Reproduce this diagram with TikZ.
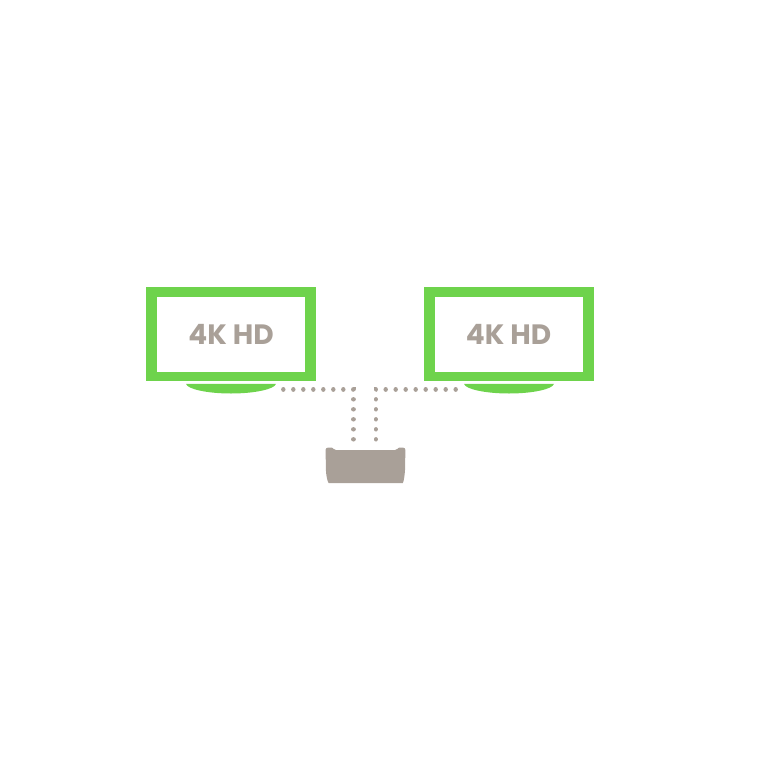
\documentclass[tikz,border=0pt]{standalone}
\usepackage{fontspec}
\setmainfont{Poppins}
\definecolor{tvgreen}{HTML}{6ED34C}
\definecolor{taupe}{HTML}{A9A098}
\definecolor{dotgrey}{HTML}{A9A098}
\tikzset{
  every node/.style={outer sep=0pt},
  tvouter/.style={fill=tvgreen,inner sep=0pt,minimum width=170pt,minimum height=94pt},
  tvinner/.style={fill=white,inner sep=0pt,minimum width=148pt,minimum height=75pt,text=taupe,font=\fontsize{28}{30}\selectfont\bfseries},
  tvstand/.style={fill=tvgreen},
  dotline/.style={draw=dotgrey,line width=4.4pt,line cap=round,dash pattern=on 0.01pt off 9.99pt},
  boxshape/.style={fill=taupe}
}
\begin{document}
\begin{tikzpicture}[x=1pt,y=-1pt]
\useasboundingbox (0,0) rectangle (768,768);
\node[tvouter] (frameL) at (230.5,334.2) {};
\node[tvinner] (tvL) at (231,334) {4K HD};
\node[tvouter] (frameR) at (508.5,333.8) {};
\node[tvinner] (tvR) at (508.5,334) {4K HD};
\fill[tvstand] (186,383.8) -- (276,383.8) .. controls (275,389) and (255,393.5) .. (231,393.5) .. controls (207,393.5) and (187,389) .. (186,383.8) -- cycle;
\fill[tvstand] (464,383.8) -- (554,383.8) .. controls (553,389) and (533,393.5) .. (509,393.5) .. controls (485,393.5) and (465,389) .. (464,383.8) -- cycle;
\fill[boxshape] (325.6,449.5) .. controls (325.6,448.5) and (327,447.6) .. (328,447.6) -- (332,447.6) .. controls (333.5,448) and (333.5,450) .. (336,450) -- (395,450) .. controls (397.5,450) and (397.5,448) .. (399,447.6) -- (403,447.6) .. controls (404.5,447.6) and (405.4,448.8) .. (405.4,450) -- (405,470) .. controls (404.6,476) and (403.9,480.5) .. (402.9,483) -- (328.6,483) .. controls (327.1,480.5) and (326.3,476) .. (325.9,470) -- cycle;
\coordinate (startL) at (283.3,389.3);
\coordinate (cornerL) at (353.3,389.3);
\coordinate (endL) at (353.3,441);
\coordinate (startR) at (455.7,389.3);
\coordinate (cornerR) at (375.7,389.3);
\coordinate (endR) at (375.7,441);
\draw[dotline] (startL) -- (cornerL) -- (endL);
\draw[dotline] (startR) -- (cornerR) -- (endR);
\end{tikzpicture}
\end{document}
